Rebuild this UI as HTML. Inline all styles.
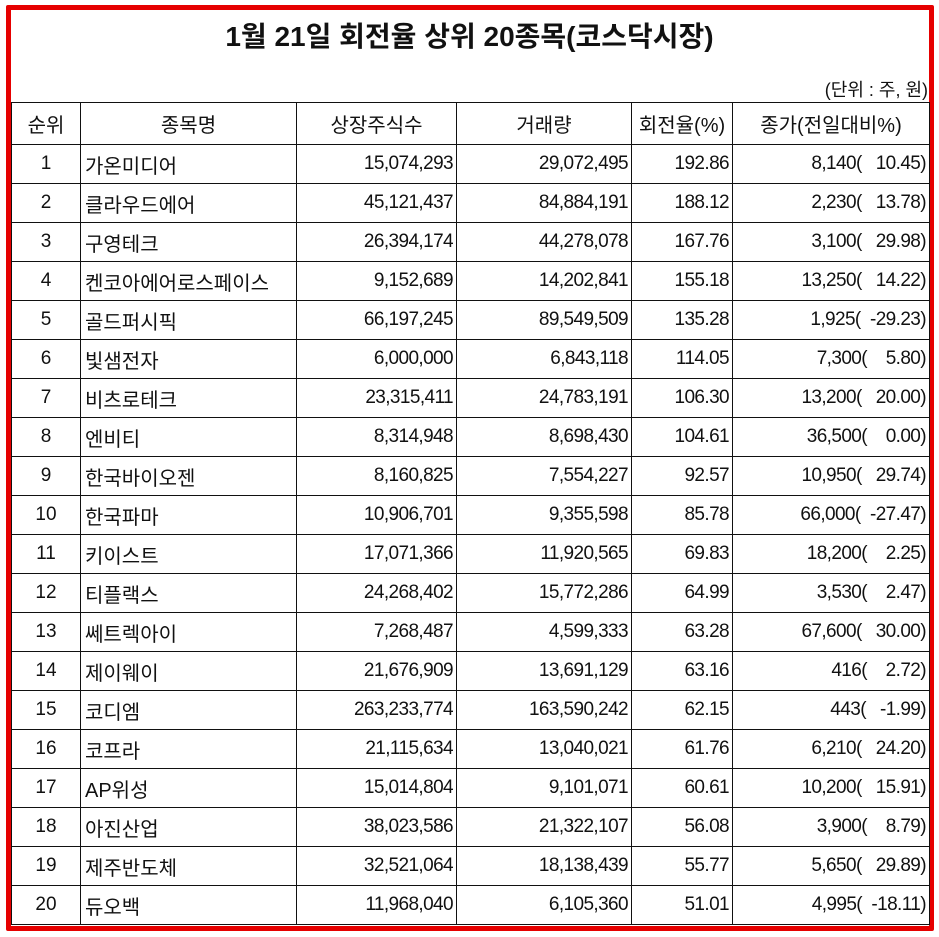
<!DOCTYPE html>
<html><head><meta charset="utf-8"><style>
body{margin:0;width:939px;height:937px;background:#fff;position:relative;overflow:hidden;font-family:"Liberation Sans","Noto Sans CJK KR","NanumGothic",sans-serif;}
.frame{position:absolute;left:6px;top:5px;width:918px;height:916px;border:5px solid #e60000;border-radius:2px;}
.title{position:absolute;left:0;width:939px;top:15px;text-align:center;font-weight:bold;font-size:28px;color:#111;}
.unit{position:absolute;right:11px;top:76px;font-size:18px;color:#111;}
table{position:absolute;left:11px;top:102px;border-collapse:collapse;table-layout:fixed;width:918px;font-size:19px;color:#111;}
td{border:1.5px solid #111;height:38px;padding:0 3px;white-space:pre;overflow:hidden;}
tr.h td{height:41px;text-align:center;font-size:20px;}
td.c{text-align:center}td.r{text-align:right;letter-spacing:-0.6px}td.l{text-align:left;padding-left:4px;font-size:20px}
</style></head><body>
<div class="frame"></div>
<div class="title">1월 21일 회전율 상위 20종목(코스닥시장)</div>
<div class="unit">(단위 : 주, 원)</div>
<table>
<colgroup><col style="width:69px"><col style="width:216px"><col style="width:160px"><col style="width:175px"><col style="width:101px"><col style="width:197px"></colgroup>
<tr class="h"><td>순위</td><td>종목명</td><td>상장주식수</td><td>거래량</td><td>회전율(%)</td><td>종가(전일대비%)</td></tr>
<tr><td class="c">1</td><td class="l">가온미디어</td><td class="r">15,074,293</td><td class="r">29,072,495</td><td class="r">192.86</td><td class="r">8,140(   10.45)</td></tr>
<tr><td class="c">2</td><td class="l">클라우드에어</td><td class="r">45,121,437</td><td class="r">84,884,191</td><td class="r">188.12</td><td class="r">2,230(   13.78)</td></tr>
<tr><td class="c">3</td><td class="l">구영테크</td><td class="r">26,394,174</td><td class="r">44,278,078</td><td class="r">167.76</td><td class="r">3,100(   29.98)</td></tr>
<tr><td class="c">4</td><td class="l">켄코아에어로스페이스</td><td class="r">9,152,689</td><td class="r">14,202,841</td><td class="r">155.18</td><td class="r">13,250(   14.22)</td></tr>
<tr><td class="c">5</td><td class="l">골드퍼시픽</td><td class="r">66,197,245</td><td class="r">89,549,509</td><td class="r">135.28</td><td class="r">1,925(  -29.23)</td></tr>
<tr><td class="c">6</td><td class="l">빛샘전자</td><td class="r">6,000,000</td><td class="r">6,843,118</td><td class="r">114.05</td><td class="r">7,300(    5.80)</td></tr>
<tr><td class="c">7</td><td class="l">비츠로테크</td><td class="r">23,315,411</td><td class="r">24,783,191</td><td class="r">106.30</td><td class="r">13,200(   20.00)</td></tr>
<tr><td class="c">8</td><td class="l">엔비티</td><td class="r">8,314,948</td><td class="r">8,698,430</td><td class="r">104.61</td><td class="r">36,500(    0.00)</td></tr>
<tr><td class="c">9</td><td class="l">한국바이오젠</td><td class="r">8,160,825</td><td class="r">7,554,227</td><td class="r">92.57</td><td class="r">10,950(   29.74)</td></tr>
<tr><td class="c">10</td><td class="l">한국파마</td><td class="r">10,906,701</td><td class="r">9,355,598</td><td class="r">85.78</td><td class="r">66,000(  -27.47)</td></tr>
<tr><td class="c">11</td><td class="l">키이스트</td><td class="r">17,071,366</td><td class="r">11,920,565</td><td class="r">69.83</td><td class="r">18,200(    2.25)</td></tr>
<tr><td class="c">12</td><td class="l">티플랙스</td><td class="r">24,268,402</td><td class="r">15,772,286</td><td class="r">64.99</td><td class="r">3,530(    2.47)</td></tr>
<tr><td class="c">13</td><td class="l">쎄트렉아이</td><td class="r">7,268,487</td><td class="r">4,599,333</td><td class="r">63.28</td><td class="r">67,600(   30.00)</td></tr>
<tr><td class="c">14</td><td class="l">제이웨이</td><td class="r">21,676,909</td><td class="r">13,691,129</td><td class="r">63.16</td><td class="r">416(    2.72)</td></tr>
<tr><td class="c">15</td><td class="l">코디엠</td><td class="r">263,233,774</td><td class="r">163,590,242</td><td class="r">62.15</td><td class="r">443(   -1.99)</td></tr>
<tr><td class="c">16</td><td class="l">코프라</td><td class="r">21,115,634</td><td class="r">13,040,021</td><td class="r">61.76</td><td class="r">6,210(   24.20)</td></tr>
<tr><td class="c">17</td><td class="l">AP위성</td><td class="r">15,014,804</td><td class="r">9,101,071</td><td class="r">60.61</td><td class="r">10,200(   15.91)</td></tr>
<tr><td class="c">18</td><td class="l">아진산업</td><td class="r">38,023,586</td><td class="r">21,322,107</td><td class="r">56.08</td><td class="r">3,900(    8.79)</td></tr>
<tr><td class="c">19</td><td class="l">제주반도체</td><td class="r">32,521,064</td><td class="r">18,138,439</td><td class="r">55.77</td><td class="r">5,650(   29.89)</td></tr>
<tr><td class="c">20</td><td class="l">듀오백</td><td class="r">11,968,040</td><td class="r">6,105,360</td><td class="r">51.01</td><td class="r">4,995(  -18.11)</td></tr>
</table>
</body></html>
